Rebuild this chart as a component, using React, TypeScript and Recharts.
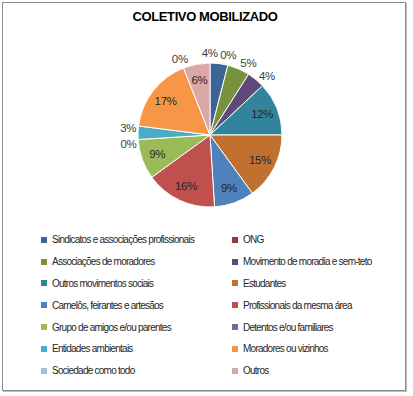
import { PieChart, Pie, Cell, Legend } from 'recharts'

const categories = [
  'Sindicatos e associações profissionais',
  'ONG',
  'Associações de moradores',
  'Movimento de moradia e sem-teto',
  'Outros movimentos sociais',
  'Estudantes',
  'Camelôs, feirantes e artesãos',
  'Profissionais da mesma área',
  'Grupo de amigos e/ou parentes',
  'Detentos e/ou familiares',
  'Entidades ambientais',
  'Moradores ou vizinhos',
  'Sociedade como todo',
  'Outros',
]

const percentages = [4, 0, 5, 4, 12, 15, 9, 16, 9, 0, 3, 17, 0, 6]

const colors = [
  '#3C6596', '#943B39', '#76923C', '#5F497A', '#31849B', '#C0712F',
  '#4F81BD', '#C0504D', '#9BBB59', '#8064A2', '#4BACC6', '#F79646',
  '#A9BCE0', '#DBA8A8',
]

const chartData = categories.map((name, i) => ({ name, value: percentages[i] }))

const FONT = '"Liberation Sans", Arial, sans-serif'
const RAD = Math.PI / 180
const INSIDE_MIN = 6
const OUT_GAP = 10

// outside labels of small slices get spread along the rim so they don't collide
// (angles are clockwise from 12 o'clock, like the pie itself)
function spreadOutsideAngles(radius: number) {
  const total = percentages.reduce((a, b) => a + b, 0)
  let cum = 0
  const angles = percentages.map((v) => {
    const mid = ((cum + v / 2) / total) * 360
    cum += v
    return mid
  })
  const outside = percentages
    .map((v, i) => i)
    .filter((i) => percentages[i] < INSIDE_MIN)
    .sort((a, b) => angles[a] - angles[b])
  const R = radius + OUT_GAP
  for (let it = 0; it < 60; it++) {
    for (let k = 0; k < outside.length - 1; k++) {
      const a = outside[k]
      const b = outside[k + 1]
      const m = ((angles[a] + angles[b]) / 2) * RAD
      const need = ((17 * Math.abs(Math.cos(m)) + 16 * Math.abs(Math.sin(m))) / R) / RAD
      const gap = angles[b] - angles[a]
      if (gap < need) {
        angles[a] -= (need - gap) / 2
        angles[b] += (need - gap) / 2
      }
    }
  }
  return angles
}

const labelAngles = spreadOutsideAngles(72)

function renderLabel(props: any) {
  const { cx, cy, outerRadius, value, index, midAngle } = props
  const inside = value >= INSIDE_MIN
  let x: number
  let y: number
  if (inside) {
    const r = outerRadius * 0.78
    x = cx + r * Math.cos(-midAngle * RAD)
    y = cy + r * Math.sin(-midAngle * RAD)
  } else {
    const r = outerRadius + OUT_GAP
    const a = labelAngles[index] * RAD
    x = cx + r * Math.sin(a)
    y = cy - r * Math.cos(a)
  }
  return (
    <text
      x={x}
      y={y}
      textAnchor="middle"
      dominantBaseline="central"
      fill={inside ? '#262626' : '#404040'}
      style={{ fontSize: '11.5px', fontFamily: FONT, letterSpacing: '-0.3px' }}
    >
      {`${value}%`}
    </text>
  )
}

function renderLegend() {
  return (
    <div
      style={{
        display: 'grid',
        gridTemplateColumns: '191px 170px',
        fontFamily: FONT,
        fontSize: '10px',
        letterSpacing: '-0.75px',
        color: '#262626',
      }}
    >
      {categories.map((name, i) => (
        <div key={name} style={{ display: 'flex', alignItems: 'center', height: '21.8px', whiteSpace: 'nowrap' }}>
          <span style={{ display: 'inline-block', width: 6, height: 6, background: colors[i], marginRight: 5 }} />
          {name}
        </div>
      ))}
    </div>
  )
}

export default function App() {
  return (
    <div style={{ position: 'absolute', left: 0, top: 0, width: 413, height: 396, background: '#fff' }}>
      <div
        style={{
          position: 'absolute',
          left: 2,
          top: 2,
          width: 402,
          height: 387,
          border: '1px solid #8c8c8c',
          boxShadow: '1px 1px 0 #bdbdbd',
        }}
      />
      <div
        style={{
          position: 'absolute',
          left: 0,
          top: 9,
          width: 410,
          textAlign: 'center',
          fontFamily: FONT,
          fontWeight: 'bold',
          fontSize: '13px',
          letterSpacing: '-0.4px',
          color: '#000',
        }}
      >
        COLETIVO MOBILIZADO
      </div>
      <PieChart width={413} height={396} style={{ position: 'absolute', left: 0, top: 0 }}>
        <Pie
          data={chartData}
          dataKey="value"
          nameKey="name"
          cx={205}
          cy={130}
          outerRadius={72}
          startAngle={90}
          endAngle={-270}
          stroke="#ffffff"
          strokeWidth={1}
          label={renderLabel}
          labelLine={false}
          isAnimationActive={false}
        >
          {chartData.map((d, i) => (
            <Cell key={d.name} fill={colors[i]} />
          ))}
        </Pie>
        <Legend
          content={renderLegend}
          layout="vertical"
          wrapperStyle={{ position: 'absolute', left: 41, top: 229, width: 370 }}
        />
      </PieChart>
    </div>
  )
}
